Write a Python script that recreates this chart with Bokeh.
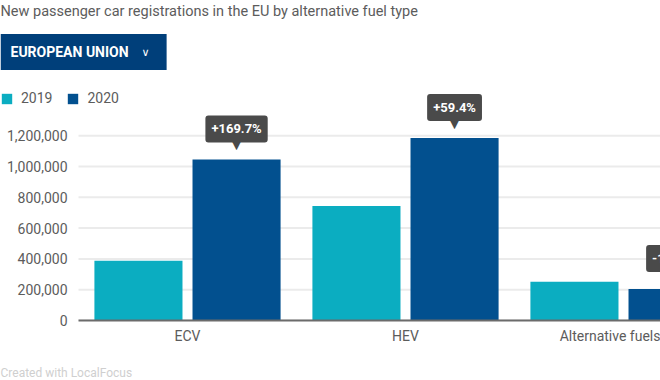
from bokeh.plotting import figure
from bokeh.models import Range1d, FixedTicker, Label, Legend, LegendItem, Title
from bokeh.embed import file_html
from bokeh.resources import INLINE

# ---- data ----
categories = ["ECV", "HEV", "Alternative fuels"]
series_names = ["2019", "2020"]
values_2019 = [387700, 743000, 251000]
values_2020 = [1045800, 1184000, 205000]
change_labels = ["+169.7%", "+59.4%", "-18.3%"]
y_ticks = [0, 200000, 400000, 600000, 800000, 1000000, 1200000]
y_tick_labels = ["0", "200,000", "400,000", "600,000", "800,000", "1,000,000", "1,200,000"]

title_text = "New passenger car registrations in the EU by alternative fuel type"
selector_text = "EUROPEAN UNION"
footer_text = "Created with LocalFocus"

# ---- style ----
TEAL = "#0badc1"
NAVY = "#02508f"
BUTTON = "#003f7a"
TIP = "#4a4a4a"
TXT = "#5c5c5c"
FONT = "Roboto"

W, H = 660, 380
BOTTOM = 58
baseline_px = H - BOTTOM          # frame spans the full width and reaches the top
plot_left_px = 78                 # where the category area begins
px_per_unit = 218.0
x_axis_start = -0.5
x_start = x_axis_start - plot_left_px / px_per_unit
x_end = x_axis_start + (W - plot_left_px) / px_per_unit
y_end = baseline_px / 155.0 * 1e6

idx = list(range(len(categories)))
dodge = 0.225
bar_w = 0.404
x2019 = [i - dodge for i in idx]
x2020 = [i + dodge for i in idx]

p = figure(width=W, height=H, x_range=Range1d(x_start, x_end), y_range=Range1d(0, y_end),
           output_backend="svg", toolbar_location=None,
           min_border_left=0, min_border_right=0, min_border_top=0, min_border_bottom=BOTTOM)
p.title_location = None
p.outline_line_color = None

# horizontal grid lines, only across the category area
p.xgrid.visible = False
p.ygrid.visible = False
p.segment(x0=[x_axis_start] * len(y_ticks), x1=[x_end] * len(y_ticks), y0=y_ticks, y1=y_ticks,
          line_color="#ebebeb", line_width=2)

r1 = p.vbar(x=x2019, top=values_2019, width=bar_w, fill_color=TEAL, line_color=None)
r2 = p.vbar(x=x2020, top=values_2020, width=bar_w, fill_color=NAVY, line_color=None)

# y axis: labels drawn inward so that the frame can start at the left edge
p.yaxis.ticker = FixedTicker(ticks=y_ticks)
p.yaxis.major_label_overrides = {t: l for t, l in zip(y_ticks, y_tick_labels)}
p.yaxis.axis_line_color = None
p.yaxis.major_tick_line_color = None
p.yaxis.major_tick_out = 0
p.yaxis.minor_tick_line_color = None
p.yaxis.minor_tick_out = 0
p.yaxis.major_label_standoff = -67
p.yaxis.major_label_text_font = FONT
p.yaxis.major_label_text_font_size = "14px"
p.yaxis.major_label_text_color = TXT

p.xaxis.ticker = FixedTicker(ticks=idx)
p.xaxis.major_label_overrides = {i: c for i, c in zip(idx, categories)}
p.xaxis.bounds = (x_axis_start, x_end)
p.xaxis.axis_line_color = "#6b6b6b"
p.xaxis.axis_line_width = 2
p.xaxis.major_tick_line_color = None
p.xaxis.major_tick_out = 0
p.xaxis.minor_tick_line_color = None
p.xaxis.minor_tick_out = 0
p.xaxis.major_label_standoff = 7
p.xaxis.major_label_text_font = FONT
p.xaxis.major_label_text_font_size = "14px"
p.xaxis.major_label_text_color = TXT

# footer below the axis
p.add_layout(Title(text=footer_text, align="left", offset=0, vertical_align="bottom",
                   standoff=2, text_font=FONT, text_font_size="12px", text_font_style="normal",
                   text_color="#cfcfcf", padding=dict(left=0, right=0, top=16, bottom=0)), "below")

# header (screen units: from the frame's bottom-left corner)
p.add_layout(Label(x=0, y=baseline_px - 4, x_units="screen", y_units="screen", text=title_text,
                   text_align="left", text_baseline="top", text_font=FONT,
                   text_font_size="14.5px", text_color=TXT))
p.add_layout(Label(x=0, y=baseline_px - 53.5, x_units="screen", y_units="screen",
                   text=selector_text, text_align="left", text_baseline="middle",
                   text_font=FONT, text_font_size="14px", text_font_style="bold",
                   text_color="white", background_fill_color=BUTTON,
                   padding=dict(left=10, right=38, top=10, bottom=10)))
p.add_layout(Label(x=145, y=baseline_px - 53.5, x_units="screen", y_units="screen",
                   text="\u2228", text_align="center", text_baseline="middle",
                   text_font="DejaVu Sans", text_font_size="11px", text_color="white"))

legend = Legend(items=[LegendItem(label=series_names[0], renderers=[r1]),
                       LegendItem(label=series_names[1], renderers=[r2])],
                location=(0, baseline_px - 108), orientation="horizontal",
                background_fill_alpha=0, border_line_color=None, padding=0, margin=0,
                spacing=14, label_standoff=8, glyph_width=13, glyph_height=13,
                label_height=15, label_text_font=FONT, label_text_font_size="14px",
                label_text_color=TXT, label_text_baseline="middle")
p.add_layout(legend)

# change tooltips
for i in idx:
    p.add_layout(Label(x=x2020[i], y=values_2020[i], text=change_labels[i],
                       text_align="center", text_baseline="bottom", y_offset=17,
                       text_font=FONT, text_font_size="13px", text_font_style="bold",
                       text_color="white", background_fill_color=TIP, padding=6,
                       border_radius=3))
    p.add_layout(Label(x=x2020[i], y=values_2020[i], text="\u25BC",
                       text_align="center", text_baseline="middle", y_offset=14,
                       text_font="DejaVu Sans", text_font_size="11px", text_color=TIP))

open("out.html", "w").write(file_html(p, INLINE))
